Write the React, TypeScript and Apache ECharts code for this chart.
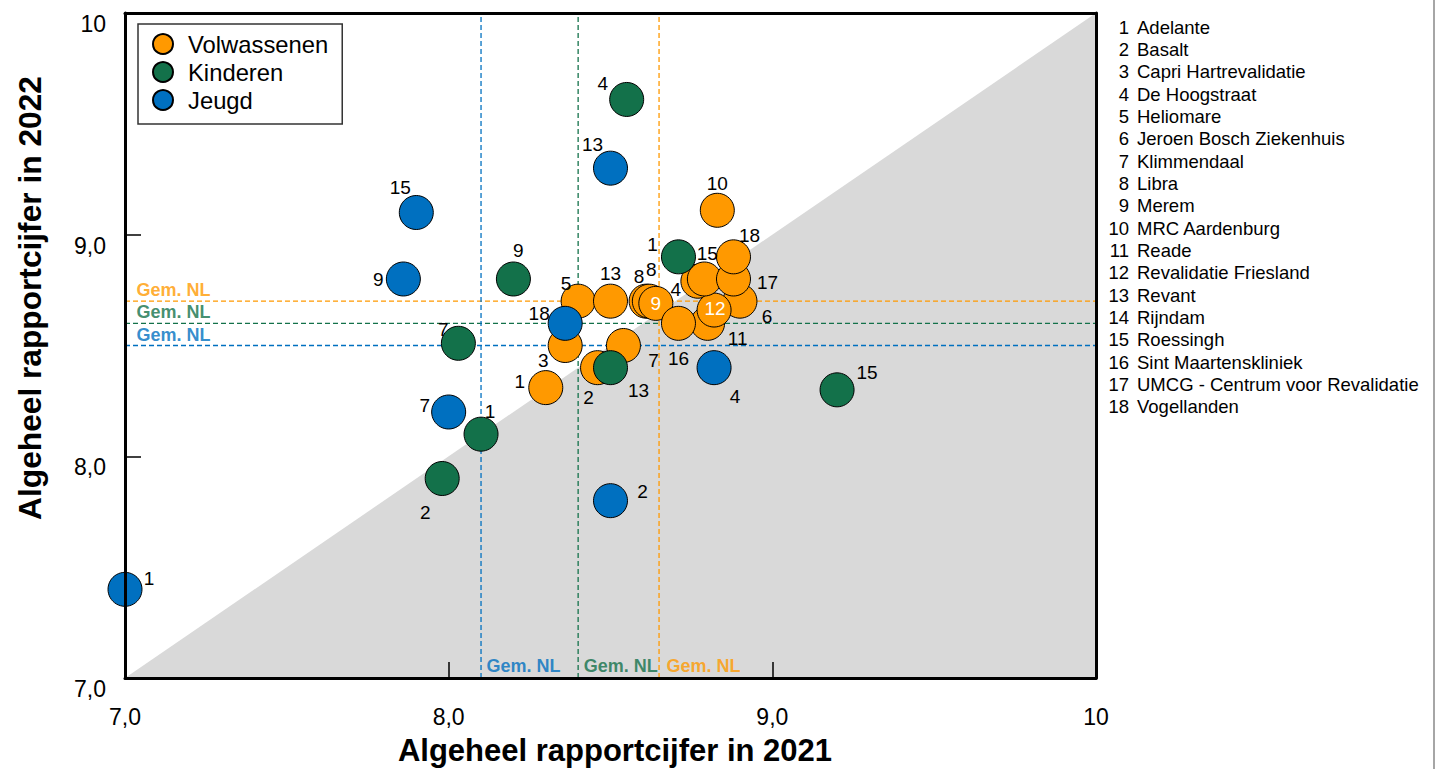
import React, { useEffect, useRef } from "react";
import * as echarts from "echarts";

// ---------- data ----------
const seriesNames = ["Volwassenen", "Kinderen", "Jeugd"];
const seriesColors = ["#FF9900", "#13714A", "#0070C0"];

const volwLabels = ["1", "2", "3", "4", "5", "6", "7", "8", "8", "9", "10", "11", "12", "13", "15", "16", "17", "18"];
const volw2021 = [8.30, 8.46, 8.36, 8.77, 8.40, 8.90, 8.54, 8.61, 8.62, 8.64, 8.83, 8.80, 8.82, 8.50, 8.79, 8.71, 8.88, 8.88];
const volw2022 = [8.31, 8.40, 8.50, 8.79, 8.70, 8.70, 8.50, 8.70, 8.70, 8.69, 9.11, 8.60, 8.66, 8.70, 8.80, 8.60, 8.80, 8.90];

const kindLabels = ["1", "1", "2", "4", "7", "9", "13", "15"];
const kind2021 = [8.10, 8.71, 7.98, 8.55, 8.03, 8.20, 8.50, 9.20];
const kind2022 = [8.10, 8.90, 7.90, 9.61, 8.51, 8.80, 8.40, 8.30];

const jeugdLabels = ["1", "2", "4", "7", "9", "13", "15", "18"];
const jeugd2021 = [7.00, 8.50, 8.82, 8.00, 7.86, 8.50, 7.90, 8.36];
const jeugd2022 = [7.40, 7.80, 8.40, 8.20, 8.80, 9.30, 9.10, 8.60];

// national averages (Gem. NL) per group: Volwassenen, Kinderen, Jeugd
const avg2021 = [8.65, 8.40, 8.10];
const avg2022 = [8.70, 8.60, 8.50];

const axisMin = 7;
const axisMax = 10;
const tickValues = [7, 8, 9, 10];
const tickLabels = ["7,0", "8,0", "9,0", "10"];

const organisations = [
  "Adelante",
  "Basalt",
  "Capri Hartrevalidatie",
  "De Hoogstraat",
  "Heliomare",
  "Jeroen Bosch Ziekenhuis",
  "Klimmendaal",
  "Libra",
  "Merem",
  "MRC Aardenburg",
  "Reade",
  "Revalidatie Friesland",
  "Revant",
  "Rijndam",
  "Roessingh",
  "Sint Maartenskliniek",
  "UMCG - Centrum voor Revalidatie",
  "Vogellanden",
];

// ---------- label placement (pixel offsets from the marker centre) ----------
const volwOffsets = [
  [-26, -6], [-9, 30], [-22, 15], [-22, 8], [-12, -18], [27, 15], [30, 15], [-7, -25], [2, -32],
  [0, 0], [0, -27], [30, 15], [1, -2], [0, -28], [3, -26], [0, 35], [34, 3], [16, -21],
];
const volwWhite = [9, 12];
const kindOffsets = [[9, -23], [-26, -12], [-17, 34], [-24, -16], [-15, -14], [5, -29], [28, 23], [30, -17]];
const jeugdOffsets = [[24, -11], [32, -9], [21, 29], [-24, -7], [-25, 0], [-18, -24], [-16, -25], [-26, -10]];

const FONT = "'Liberation Sans', Arial, Helvetica, sans-serif";

function fmtTick(v: number) {
  const i = tickValues.indexOf(v);
  return i >= 0 ? tickLabels[i] : "";
}

function makeScatter(
  idx: number,
  labels: string[],
  xs: number[],
  ys: number[],
  offsets: number[][],
  whiteIdx: number[] = []
) {
  return {
    name: seriesNames[idx],
    type: "scatter",
    symbol: "circle",
    symbolSize: 34,
    clip: false,
    z: 5,
    itemStyle: { color: seriesColors[idx], borderColor: "#000", borderWidth: 1, opacity: 1 },
    label: {
      show: true,
      position: "inside",
      formatter: "{b}",
      fontFamily: FONT,
      fontSize: 19,
      color: "#000",
    },
    emphasis: { disabled: true },
    data: xs.map((x, i) => ({
      name: labels[i],
      value: [x, ys[i]],
      label: {
        offset: offsets[i],
        color: whiteIdx.includes(i) ? "#fff" : "#000",
      },
    })),
  };
}

export default function App() {
  const ref = useRef<HTMLDivElement>(null);

  useEffect(() => {
    if (!ref.current) return;
    const chart = echarts.init(ref.current, undefined, { renderer: "svg" });

    const gridLeft = 125;
    const gridTop = 13;
    const gridWidth = 971;
    const gridHeight = 665;

    const refLines: any[] = [];
    const gemLabels: any[] = [];
    for (let g = 0; g < 3; g++) {
      refLines.push({
        type: "line",
        silent: true,
        symbol: "none",
        z: 3,
        color: seriesColors[g],
        lineStyle: { color: seriesColors[g], width: 1.3, type: [5, 3], opacity: 1 },
        emphasis: { disabled: true },
        data: [[avg2021[g], axisMin], [avg2021[g], axisMax]],
      });
      refLines.push({
        type: "line",
        silent: true,
        symbol: "none",
        z: 3,
        color: seriesColors[g],
        lineStyle: { color: seriesColors[g], width: 1.3, type: [5, 3], opacity: 1 },
        emphasis: { disabled: true },
        data: [[axisMin, avg2022[g]], [axisMax, avg2022[g]]],
      });
      gemLabels.push({
        type: "scatter",
        silent: true,
        symbolSize: 1,
        clip: false,
        z: 4,
        itemStyle: { color: "rgba(0,0,0,0)" },
        label: {
          show: true,
          position: "right",
          distance: 0,
          formatter: "Gem. NL",
          fontFamily: FONT,
          fontSize: 18,
          fontWeight: "bold",
          color: seriesColors[g],
        },
        data: [
          { value: [avg2021[g], axisMin], label: { offset: [g === 0 ? 7 : 5, -12] } },
          { value: [axisMin, avg2022[g]], label: { offset: [11, -11] } },
        ],
      });
    }

    const listGraphics: any[] = [];
    organisations.forEach((name, i) => {
      const y = 27 + i * 22.35;
      listGraphics.push({
        type: "text",
        x: 1129,
        y,
        style: { text: String(i + 1), fill: "#000", font: `18.5px ${FONT}`, align: "right", verticalAlign: "middle" },
      });
      listGraphics.push({
        type: "text",
        x: 1137,
        y,
        style: { text: name, fill: "#000", font: `18.5px ${FONT}`, align: "left", verticalAlign: "middle" },
      });
    });

    const baseAxis = {
      type: "value",
      min: axisMin,
      max: axisMax,
      interval: 1,
      splitLine: { show: false },
      z: 10,
    };

    chart.setOption({
      animation: false,
      backgroundColor: "#fff",
      textStyle: { fontFamily: FONT },
      grid: { left: gridLeft, top: gridTop, width: gridWidth, height: gridHeight, containLabel: false },
      xAxis: [
        {
          ...baseAxis,
          position: "bottom",
          axisLine: { show: true, lineStyle: { color: "#000", width: 3 } },
          axisTick: { show: true, inside: true, length: 16, lineStyle: { color: "#000", width: 1.5 } },
          axisLabel: { formatter: fmtTick, fontFamily: FONT, fontSize: 23, color: "#000", margin: 27 },
        },
        {
          ...baseAxis,
          position: "top",
          axisLine: { show: true, onZero: false, lineStyle: { color: "#000", width: 3 } },
          axisTick: { show: false },
          axisLabel: { show: false },
        },
      ],
      yAxis: [
        {
          ...baseAxis,
          position: "left",
          axisLine: { show: true, lineStyle: { color: "#000", width: 3 } },
          axisTick: { show: true, inside: true, length: 16, lineStyle: { color: "#000", width: 1.5 } },
          axisLabel: {
            formatter: fmtTick,
            fontFamily: FONT,
            fontSize: 23,
            color: "#000",
            margin: 19,
            verticalAlign: "top",
            lineHeight: 22,
          },
        },
        {
          ...baseAxis,
          position: "right",
          axisLine: { show: true, onZero: false, lineStyle: { color: "#000", width: 3 } },
          axisTick: { show: false },
          axisLabel: { show: false },
        },
      ],
      legend: {
        data: seriesNames,
        left: 138,
        top: 24,
        orient: "vertical",
        icon: "circle",
        itemWidth: 20,
        itemHeight: 20,
        itemGap: 2,
        padding: [7, 14, 11, 14],
        borderColor: "#333",
        borderWidth: 1.5,
        borderRadius: 0,
        backgroundColor: "#fff",
        selectedMode: false,
        textStyle: { fontFamily: FONT, fontSize: 23.8, color: "#000", lineHeight: 26, padding: [0, 0, 0, 10] },
        z: 20,
      },
      graphic: [
        {
          type: "text",
          x: 615,
          y: 750,
          style: {
            text: "Algeheel rapportcijfer in 2021",
            fill: "#000",
            font: `bold 31px ${FONT}`,
            align: "center",
            verticalAlign: "middle",
          },
        },
        {
          type: "text",
          x: 30,
          y: 298,
          rotation: Math.PI / 2,
          style: {
            text: "Algeheel rapportcijfer in 2022",
            fill: "#000",
            font: `bold 31.7px ${FONT}`,
            align: "center",
            verticalAlign: "middle",
          },
        },
        {
          type: "line",
          shape: { x1: 1434, y1: 0, x2: 1434, y2: 769 },
          style: { stroke: "#a6a6a6", lineWidth: 2 },
        },
        ...listGraphics,
      ],
      series: [
        {
          type: "line",
          silent: true,
          symbol: "none",
          z: 1,
          lineStyle: { width: 0, color: "#D9D9D9" },
          areaStyle: { color: "#D9D9D9", opacity: 1, origin: "start" },
          data: [[axisMin, axisMin], [axisMax, axisMax]],
        },
        ...refLines,
        ...gemLabels,
        makeScatter(0, volwLabels, volw2021, volw2022, volwOffsets, volwWhite),
        makeScatter(1, kindLabels, kind2021, kind2022, kindOffsets),
        makeScatter(2, jeugdLabels, jeugd2021, jeugd2022, jeugdOffsets),
      ],
    });

    return () => chart.dispose();
  }, []);

  return (
    <div
      ref={ref}
      style={{ position: "absolute", left: 0, top: 0, width: 1438, height: 769 }}
    />
  );
}
